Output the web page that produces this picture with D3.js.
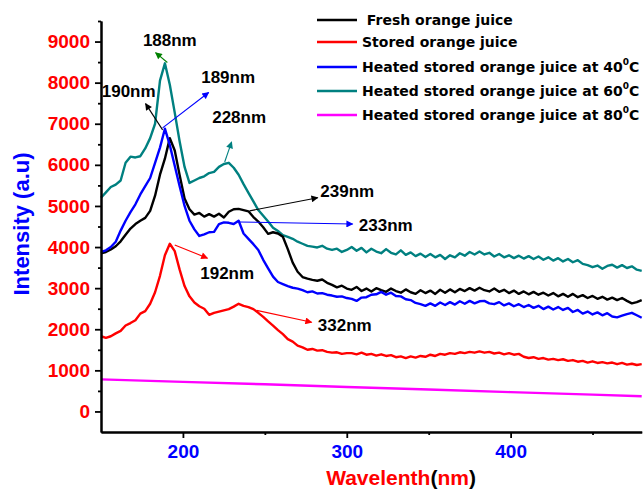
<!DOCTYPE html>
<html><head><meta charset="utf-8">
<script src="https://cdn.jsdelivr.net/npm/d3@7"></script>
<style>body{margin:0;background:#fff} svg{display:block}</style>
</head><body><svg id="c" width="643" height="492"></svg>
<script>
const wavelength = [150,153,156,159,162,165,168,171,174,177,180,183,186,189,192,195,198,201,204,207,
210,213,216,219,222,225,228,231,234,237,240,243,246,249,252,255,258,261,264,267,
270,273,276,279,282,285,288,291,294,297,300,303,306,309,312,315,318,321,324,327,
330,333,336,339,342,345,348,351,354,357,360,363,366,369,372,375,378,381,384,387,
390,393,396,399,402,405,408,411,414,417,420,423,426,429,432,435,438,441,444,447,
450,453,456,459,462,465,468,471,474,477,480];

const fresh = [3850,3880,3940,4020,4140,4300,4450,4560,4640,4710,
4880,5250,5760,6150,6650,6350,5750,5180,4920,4790,
4830,4740,4800,4740,4810,4720,4860,4920,4930,4900,
4870,4730,4620,4480,4320,4360,4330,4250,3950,3620,
3400,3270,3230,3200,3180,3210,3130,3080,3020,3060,
2990,
2960,3030,2930,2990,2920,3000,2950,2910,2990,2930,
2890,2970,2900,2860,2950,2880,2940,2860,2960,2890,
2970,2900,2980,2930,3000,2940,3010,2950,2920,2990,
2910,2960,2880,2940,2860,2920,2850,2910,2840,2890,
2820,2880,2800,2860,2790,2860,2780,2830,2760,2810,
2740,2790,2720,2770,2710,2760,2690,2630,2660,2710];

const stored = [1830,1790,1830,1900,1960,2090,2150,2220,2380,2440,
2620,2900,3300,3800,4080,3900,3450,3050,2800,2650,
2560,2500,2350,2400,2430,2460,2490,2550,2620,2570,
2540,2490,2400,2300,2190,2090,1980,1880,1760,1700,
1600,1560,1500,1520,1480,1490,1450,1430,1440,1400,
1420,
1420,1390,1430,1380,1400,1360,1390,1350,1370,1320,
1340,1300,1340,1310,1350,1330,1380,1350,1400,1380,
1420,1400,1440,1420,1450,1430,1460,1430,1450,1410,
1430,1390,1420,1380,1400,1330,1300,1320,1280,1300,
1260,1280,1250,1270,1230,1250,1210,1230,1190,1220,
1180,1200,1170,1190,1150,1180,1140,1160,1130,1150];

const heated40 = [3880,3920,4000,4130,4400,4640,4850,5040,5280,5480,
5680,6050,6420,6880,6480,5980,5480,5000,4640,4430,
4270,4310,4360,4370,4560,4600,4590,4560,4640,4330,
4200,4070,3930,3690,3480,3280,3150,3100,3050,3010,
2990,2950,2900,2920,2870,2880,2840,2820,2790,2800,
2760,
2740,2690,2770,2780,2840,2850,2910,2840,2890,2810,
2800,2730,2710,2640,2610,2570,2630,2570,2650,2590,
2660,2600,2680,2620,2690,2630,2680,2690,2630,2610,
2660,2580,2630,2560,2610,2540,2590,2520,2570,2490,
2550,2480,2540,2470,2520,2420,2470,2380,2430,2360,
2410,2340,2390,2310,2290,2330,2370,2400,2340,2280];

const heated60 = [5200,5330,5460,5520,5620,6050,6200,6180,6210,6400,
6650,7000,8050,8470,7950,7270,6570,5950,5560,5620,
5680,5720,5800,5830,5950,6020,6050,5930,5760,5530,
5320,5110,4900,4760,4620,4470,4390,4290,4250,4200,
4130,4080,4030,4010,3990,4030,3960,3930,3960,3880,
3930,
4000,3910,3980,3870,3960,3890,3850,3950,3860,3820,
3920,3810,3870,3780,3840,3760,3830,3750,3810,3710,
3800,3750,3850,3790,3880,3820,3890,3820,3860,3770,
3830,3750,3800,3730,3790,3720,3780,3710,3770,3690,
3750,3670,3730,3650,3710,3630,3680,3590,3560,3510,
3550,3470,3540,3570,3500,3560,3490,3530,3450,3420];

const wavelength80 = [150,200,250,300,350,400,450,480];
const heated80 = [780,720,660,595,535,470,410,370];

const seriesNames = ["Fresh orange juice","Stored orange juice","Heated stored orange juice at 40","Heated stored orange juice at 60","Heated stored orange juice at 80"];
const seriesColors = ["#000000","#ff0000","#0000ff","#008080","#ff00ff"];

const yTicks = [0,1000,2000,3000,4000,5000,6000,7000,8000,9000];
const yMinor = [500,1500,2500,3500,4500,5500,6500,7500,8500,9500];
const xTicks = [200,300,400];
const xMinor = [250,350,450];

const annLabels = ["188nm","189nm","190nm","228nm","239nm","233nm","192nm","332nm"];
const annStart = [[190.5,8490],[187.6,6900],[187.6,6850],[225.5,6070],[240.7,4880],[234.6,4610],[195,4050],[245,2460]];
const annEnd = [[183.3,8730],[215.7,7760],[177.2,7490],[229.7,6560],[282.3,5200],[303.6,4560],[215,3730],[278.6,2170]];
const annText = [[192,8880],[227.6,8000],[166.9,7660],[234.3,7020],[300.3,5220],[323.8,4390],[227,3220],[298.8,1950]];
const annColors = ["#008000","#0000ff","#000000","#008080","#000000","#0000ff","#ff0000","#ff0000"];

const svg = d3.select("#c");
const x = d3.scaleLinear().domain([150,480]).range([101,641.7]);
const y = d3.scaleLinear().domain([-500,9500]).range([432,21]);

const font = "'Liberation Sans', Arial, sans-serif";

const defs = svg.append("defs");
annColors.forEach((c,i)=>{
  defs.append("marker").attr("id","ah"+i).attr("viewBox","0 0 10 10")
    .attr("refX",9).attr("refY",5).attr("markerWidth",9).attr("markerHeight",7)
    .attr("markerUnits","userSpaceOnUse").attr("orient","auto")
    .append("path").attr("d","M0,0L10,5L0,10Z").attr("fill",c);
});

const line = d3.line().x(d=>x(d[0])).y(d=>y(d[1]));
const allSeries = [
  wavelength.map((w,i)=>[w,fresh[i]]),
  wavelength.map((w,i)=>[w,stored[i]]),
  wavelength.map((w,i)=>[w,heated40[i]]),
  wavelength.map((w,i)=>[w,heated60[i]]),
  wavelength80.map((w,i)=>[w,heated80[i]])
];
const drawOrder = [4,1,3,0,2];
drawOrder.forEach(k=>{
  svg.append("path").attr("d",line(allSeries[k])).attr("fill","none")
    .attr("stroke",seriesColors[k]).attr("stroke-width",2.4).attr("stroke-linejoin","round");
});

const gy = svg.append("g").attr("transform","translate(101,0)")
  .call(d3.axisLeft(y).tickValues(yTicks).tickFormat(d3.format("d")).tickSize(6).tickSizeOuter(0).tickPadding(5));
const gyMinor = svg.append("g").attr("transform","translate(101,0)")
  .call(d3.axisLeft(y).tickValues(yMinor).tickSize(3).tickSizeOuter(0).tickFormat(""));
const gx = svg.append("g").attr("transform","translate(0,432)")
  .call(d3.axisBottom(x).tickValues(xTicks).tickFormat(d3.format("d")).tickSize(6).tickSizeOuter(0).tickPadding(7));
const gxMinor = svg.append("g").attr("transform","translate(0,432)")
  .call(d3.axisBottom(x).tickValues(xMinor).tickSize(3).tickSizeOuter(0).tickFormat(""));
[gy,gyMinor,gx,gxMinor].forEach(g=>{
  g.select(".domain").attr("stroke","#000").attr("stroke-width",2);
  g.selectAll(".tick line").attr("stroke","#000").attr("stroke-width",1.8);
});
gy.selectAll(".tick text").attr("fill","#ff0000").attr("font-family",font)
  .attr("font-weight","bold").attr("font-size",19);
gx.selectAll(".tick text").attr("fill","#0000ff").attr("font-family",font)
  .attr("font-weight","bold").attr("font-size",19);

svg.append("text").attr("transform","translate(29,224) rotate(-90)")
  .attr("text-anchor","middle").attr("fill","#0000ff").attr("font-family",font)
  .attr("font-weight","bold").attr("font-size",22).text("Intensity (a.u)");
const xt = svg.append("text").attr("x",401).attr("y",485).attr("text-anchor","middle")
  .attr("font-family",font).attr("font-weight","bold").attr("font-size",21);
xt.append("tspan").attr("fill","#ff0000").text("Wavelenth");
xt.append("tspan").attr("fill","#000").text("(");
xt.append("tspan").attr("fill","#ff0000").text("nm");
xt.append("tspan").attr("fill","#000").text(")");

annLabels.forEach((lab,i)=>{
  svg.append("line").attr("x1",x(annStart[i][0])).attr("y1",y(annStart[i][1]))
    .attr("x2",x(annEnd[i][0])).attr("y2",y(annEnd[i][1]))
    .attr("stroke",annColors[i]).attr("stroke-width",1.1).attr("marker-end","url(#ah"+i+")");
  svg.append("text").attr("x",x(annText[i][0])).attr("y",y(annText[i][1]))
    .attr("text-anchor","middle").attr("font-family",font).attr("font-weight","bold")
    .attr("font-size",17).attr("fill","#000").text(lab);
});

const legendY = [20,42,67,91,115];
const lfont = "'DejaVu Sans', Verdana, sans-serif";
seriesNames.forEach((name,i)=>{
  svg.append("line").attr("x1",317).attr("x2",357).attr("y1",legendY[i]).attr("y2",legendY[i])
    .attr("stroke",seriesColors[i]).attr("stroke-width",2.5);
  const t = svg.append("text").attr("x",362).attr("y",legendY[i]+5)
    .attr("font-family",lfont).attr("font-weight","bold").attr("font-size",14).attr("fill","#000");
  if(i>=2){
    t.append("tspan").text(name);
    t.append("tspan").attr("font-size",9).attr("dy",-7).text("0");
    t.append("tspan").attr("dy",7).text("C");
  } else {
    t.text(i===0 ? "\u00a0"+name : name);
  }
});
</script></body></html>
